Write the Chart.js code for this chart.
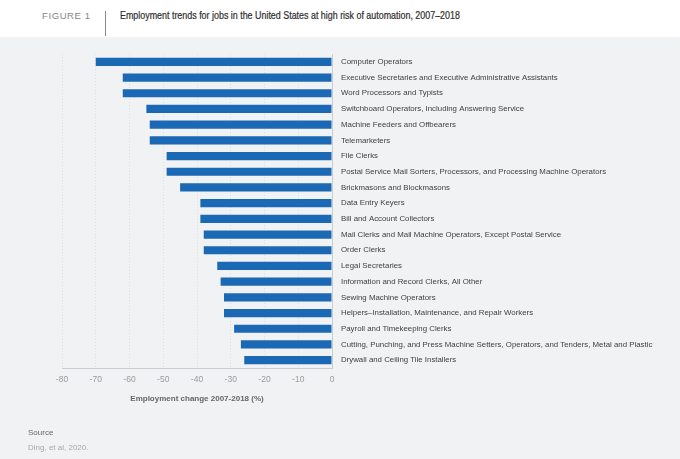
<!DOCTYPE html>
<html>
<head>
<meta charset="utf-8">
<script src="https://cdn.jsdelivr.net/npm/chart.js@4"></script>
<style>
  html, body { margin: 0; padding: 0; }
  body { width: 680px; height: 459px; position: relative; background: #fff; font-family: "Liberation Sans", Arial, sans-serif; overflow: hidden; }
  #header { position: absolute; left: 0; top: 0; width: 680px; height: 37px; background: #fff; }
  #fig { position: absolute; left: 42px; top: 10px; font-size: 9.5px; letter-spacing: 0.6px; color: #858585; }
  #sep { position: absolute; left: 105px; top: 11px; width: 1px; height: 25px; background: #888; }
  #title { position: absolute; left: 120px; top: 10px; font-size: 10px; white-space: nowrap; color: #2e2e2e; -webkit-text-stroke: 0.2px #2e2e2e; transform: scaleX(0.89); transform-origin: left top; }
  #panel { position: absolute; left: 0; top: 37px; width: 680px; height: 422px; background: #f1f2f4; }
  #wrap { position: absolute; left: 0; top: 0; width: 680px; height: 422px; }
  #src { position: absolute; left: 28px; top: 391px; font-size: 8px; color: #666; }
  #cite { position: absolute; left: 28px; top: 406px; font-size: 8px; color: #a8a8a8; }
</style>
</head>
<body>
<div id="header">
  <div id="fig">FIGURE 1</div>
  <div id="sep"></div>
  <div id="title">Employment trends for jobs in the United States at high risk of automation, 2007–2018</div>
</div>
<div id="panel">
  <div id="wrap"><canvas id="jobsChart"></canvas></div>
  <div id="src">Source</div>
  <div id="cite">Ding, et al, 2020.</div>
</div>
<script>
// occupations, top to bottom
const occupations = [
    'Computer Operators',
    'Executive Secretaries and Executive Administrative Assistants',
    'Word Processors and Typists',
    'Switchboard Operators, Including Answering Service',
    'Machine Feeders and Offbearers',
    'Telemarketers',
    'File Clerks',
    'Postal Service Mail Sorters, Processors, and Processing Machine Operators',
    'Brickmasons and Blockmasons',
    'Data Entry Keyers',
    'Bill and Account Collectors',
    'Mail Clerks and Mail Machine Operators, Except Postal Service',
    'Order Clerks',
    'Legal Secretaries',
    'Information and Record Clerks, All Other',
    'Sewing Machine Operators',
    'Helpers–Installation, Maintenance, and Repair Workers',
    'Payroll and Timekeeping Clerks',
    'Cutting, Punching, and Press Machine Setters, Operators, and Tenders, Metal and Plastic',
    'Drywall and Ceiling Tile Installers'
];

// employment change 2007-2018, %
const changePct = [-70, -62, -62, -55, -54, -54, -49, -49, -45, -39, -39, -38, -38, -34, -33, -32, -32, -29, -27, -26];

const xTicks = [-80, -70, -60, -50, -40, -30, -20, -10, 0];

const axisTitle = 'Employment change 2007-2018 (%)';

function initChart() {
    const ctx = document.getElementById('jobsChart').getContext('2d');
    new Chart(ctx, {
        type: 'bar',
        data: {
            labels: occupations,
            datasets: [{
                data: changePct,
                backgroundColor: '#1b69b4',
                borderWidth: 0,
                barPercentage: 0.52,
                categoryPercentage: 1
            }]
        },
        options: {
            indexAxis: 'y',
            responsive: true,
            maintainAspectRatio: false,
            animation: false,
            layout: { padding: { left: 62, top: 17, right: 0, bottom: 51 } },
            plugins: { legend: { display: false }, tooltip: { enabled: false } },
            scales: {
                x: {
                    min: xTicks[0],
                    max: xTicks[xTicks.length - 1],
                    afterBuildTicks: s => { s.ticks = xTicks.map(v => ({ value: v })); },
                    afterFit: s => { s.height = 40; },
                    grid: { color: '#dcdfe3', drawTicks: false, borderDash: [1, 2] },
                    border: { color: '#c9cdd3', dash: [1, 2] },
                    ticks: { color: '#9a9a9a', padding: 7, font: { family: 'Liberation Sans', size: 8.5 } },
                    title: {
                        display: true,
                        text: axisTitle,
                        color: '#666',
                        padding: { top: 4, bottom: 4 },
                        font: { family: 'Liberation Sans', size: 8, weight: 'bold' }
                    }
                },
                y: {
                    position: 'right',
                    afterFit: s => { s.width = 348; },
                    grid: { display: false, drawTicks: false },
                    border: { color: '#c9cdd3' },
                    ticks: { color: '#404040', padding: 9, autoSkip: false, font: { family: 'Liberation Sans', size: 7.85 } }
                }
            }
        }
    });
}

window.onload = initChart;
</script>
</body>
</html>
